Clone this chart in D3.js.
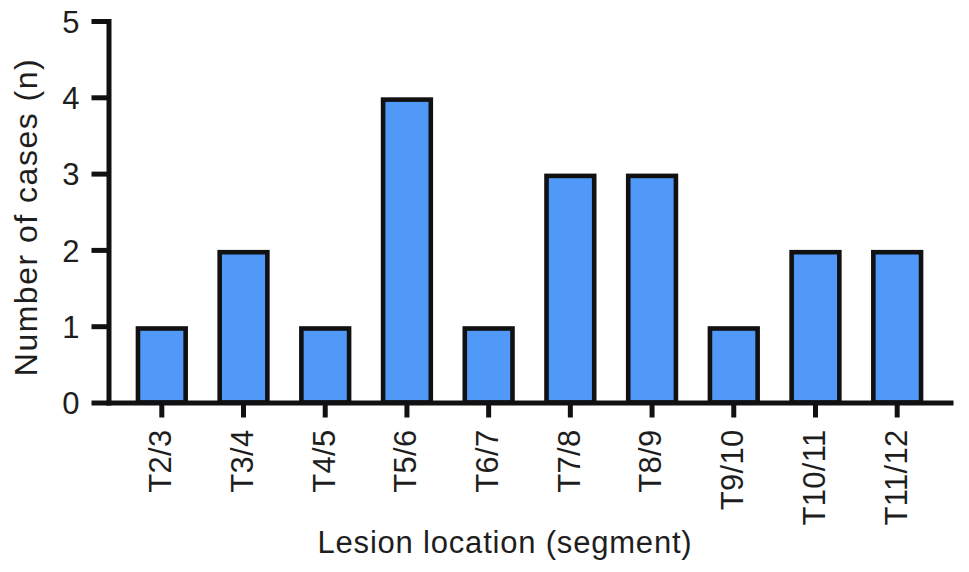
<!DOCTYPE html>
<html>
<head>
<meta charset="utf-8">
<script src="https://cdn.jsdelivr.net/npm/d3@7"></script>
<style>
  html, body { margin: 0; padding: 0; background: #fff; }
  svg { display: block; font-family: "Liberation Sans", Arial, Helvetica, sans-serif; }
</style>
</head>
<body>
<svg id="chart" width="969" height="572"></svg>
<script>
const categories = ["T2/3", "T3/4", "T4/5", "T5/6", "T6/7", "T7/8", "T8/9", "T9/10", "T10/11", "T11/12"];
const cases = [1, 2, 1, 4, 1, 3, 3, 1, 2, 2];
const yTicks = [0, 1, 2, 3, 4, 5];
const xTitle = "Lesion location (segment)";
const yTitle = "Number of cases (n)";

const svg = d3.select("#chart");
const ink = "#111";
const textCol = "#1e1e1e";
const barFill = "#5199f8";

const x = d3.scaleBand().domain(categories).range([106, 953]).paddingInner(0.36).paddingOuter(0.363);
const y = d3.scaleLinear().domain([0, 5]).range([402.5, 21]);

const sw = 4.6;
// bars
svg.append("g").selectAll("rect").data(categories).join("rect")
  .attr("x", (d) => x(d) + sw / 2)
  .attr("y", (d, i) => y(cases[i]) + sw / 2)
  .attr("width", x.bandwidth() - sw)
  .attr("height", (d, i) => y(0) - y(cases[i]) - sw / 2)
  .attr("fill", barFill)
  .attr("stroke", ink)
  .attr("stroke-width", sw);

// y axis
const yAxis = svg.append("g").attr("transform", "translate(108.5,0)")
  .call(d3.axisLeft(y).tickValues(yTicks).tickFormat(d3.format("d")).tickSize(17).tickSizeOuter(0).tickPadding(12));
yAxis.select(".domain").attr("stroke", ink).attr("stroke-width", 5).attr("stroke-linecap", "square");
yAxis.selectAll(".tick line").attr("stroke", ink).attr("stroke-width", 5);
yAxis.selectAll(".tick text").attr("fill", textCol).attr("font-size", 31).attr("dy", "0.36em");

// x axis
const xAxis = svg.append("g").attr("transform", "translate(0,402.5)")
  .call(d3.axisBottom(x).tickSize(15).tickSizeOuter(0).tickPadding(15));
xAxis.select(".domain").attr("stroke", ink).attr("stroke-width", 5);
xAxis.selectAll(".tick line").attr("stroke", ink).attr("stroke-width", 5);
xAxis.selectAll(".tick text")
  .attr("fill", textCol)
  .attr("font-size", 31)
  .attr("letter-spacing", 0.3)
  .attr("transform", "rotate(-90)")
  .attr("text-anchor", "end")
  .attr("x", -27)
  .attr("y", 0)
  .attr("dy", "0.3em");

// titles
svg.append("text")
  .attr("x", 505).attr("y", 553)
  .attr("text-anchor", "middle")
  .attr("font-size", 31)
  .attr("letter-spacing", 0.8)
  .attr("fill", textCol)
  .text(xTitle);

svg.append("text")
  .attr("transform", "translate(37,217) rotate(-90)")
  .attr("text-anchor", "middle")
  .attr("font-size", 32)
  .attr("letter-spacing", 1.5)
  .attr("fill", textCol)
  .text(yTitle);
</script>
</body>
</html>
